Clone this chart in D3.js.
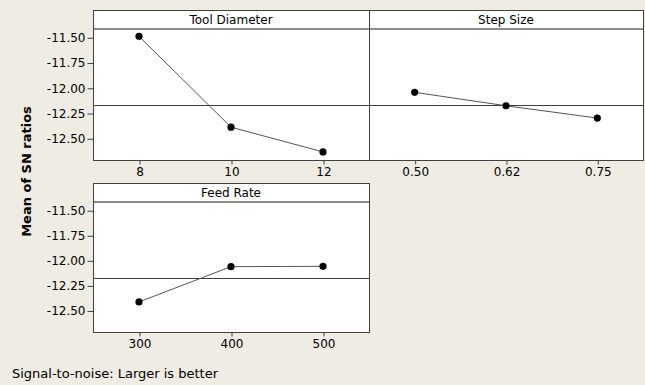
<!DOCTYPE html>
<html><head><meta charset="utf-8">
<script src="https://cdn.jsdelivr.net/npm/d3@7"></script>
<style>
html,body{margin:0;padding:0;background:#EFECE3;}
svg{display:block;}
text{font-family:"DejaVu Sans",sans-serif;fill:#000;}
</style></head>
<body>
<script>
// ---- data ----
const factorNames = ["Tool Diameter", "Step Size", "Feed Rate"];
const toolLevels = ["8", "10", "12"];
const toolMeans = [-11.49, -12.39, -12.635];
const stepLevels = ["0.50", "0.62", "0.75"];
const stepMeans = [-12.045, -12.178, -12.30];
const feedLevels = ["300", "400", "500"];
const feedMeans = [-12.415, -12.063, -12.06];
const grandMean = -12.175;
const yTicks = [-11.50, -11.75, -12.00, -12.25, -12.50];
const yDomain = [-12.715, -11.418];
const yTitle = "Mean of SN ratios";
const footer = "Signal-to-noise: Larger is better";

const W = 645, H = 385;
const svg = d3.select("body").append("svg").attr("width", W).attr("height", H);

const panels = [
  {name: factorNames[0], levels: toolLevels, vals: toolMeans, x0: 93, x1: 369, y0: 10, y1: 160, yAxis: true},
  {name: factorNames[1], levels: stepLevels, vals: stepMeans, x0: 369, x1: 643, y0: 10, y1: 160, yAxis: false},
  {name: factorNames[2], levels: feedLevels, vals: feedMeans, x0: 93, x1: 369, y0: 183, y1: 332, yAxis: true}
];
const headerH = 19;

panels.forEach(p => {
  const g = svg.append("g");
  const top = p.y0 + headerH;
  const x = d3.scalePoint().domain(p.levels).range([p.x0, p.x1]).padding(0.5);
  const y = d3.scaleLinear().domain(yDomain).range([p.y1, top]);

  g.append("rect").attr("x", p.x0 + 0.5).attr("y", p.y0 + 0.5)
    .attr("width", p.x1 - p.x0).attr("height", p.y1 - p.y0)
    .attr("fill", "#fff");

  // mean line
  g.append("line").attr("x1", p.x0).attr("x2", p.x1)
    .attr("y1", Math.round(y(grandMean)) + 0.5).attr("y2", Math.round(y(grandMean)) + 0.5)
    .attr("stroke", "#404040").attr("stroke-width", 1);

  // header
  g.append("line").attr("x1", p.x0).attr("x2", p.x1)
    .attr("y1", top).attr("y2", top)
    .attr("stroke", "#8c8c8c").attr("stroke-width", 2);
  g.append("text").attr("x", (p.x0 + p.x1) / 2).attr("y", p.y0 + 14)
    .attr("text-anchor", "middle").attr("font-size", 12).text(p.name);

  // border
  g.append("rect").attr("x", p.x0 + 0.5).attr("y", p.y0 + 0.5)
    .attr("width", p.x1 - p.x0).attr("height", p.y1 - p.y0)
    .attr("fill", "none").attr("stroke", "#404040").attr("stroke-width", 1);

  // x axis
  const xa = g.append("g").attr("transform", `translate(0.5,${p.y1 + 0.5})`)
    .call(d3.axisBottom(x).tickSize(4).tickPadding(3));
  xa.select(".domain").remove();
  xa.selectAll("line").attr("stroke", "#404040");
  xa.selectAll("text").attr("font-size", 12).attr("fill", "#000")
    .style("font-family", '"DejaVu Sans",sans-serif');

  if (p.yAxis) {
    const ya = g.append("g").attr("transform", `translate(${p.x0 + 0.5},0.5)`)
      .call(d3.axisLeft(y).tickValues(yTicks).tickFormat(d => d.toFixed(2)).tickSize(6).tickPadding(2));
    ya.select(".domain").remove();
    ya.selectAll("line").attr("stroke", "#404040");
    ya.selectAll("text").attr("font-size", 12).attr("fill", "#000")
      .style("font-family", '"DejaVu Sans",sans-serif');
  }

  // data line and points
  const pts = p.levels.map((l, i) => [x(l), y(p.vals[i])]);
  g.append("path").attr("d", d3.line()(pts))
    .attr("fill", "none").attr("stroke", "#555").attr("stroke-width", 1);
  g.selectAll("circle").data(pts).join("circle")
    .attr("cx", d => d[0]).attr("cy", d => d[1]).attr("r", 3.6).attr("fill", "#000");
});

svg.append("text")
  .attr("transform", "translate(31,171.5) rotate(-90)")
  .attr("text-anchor", "middle").attr("font-size", 13).attr("font-weight", "bold")
  .text(yTitle);

svg.append("text").attr("x", 12).attr("y", 378).attr("font-size", 13).text(footer);
</script>
</body></html>
